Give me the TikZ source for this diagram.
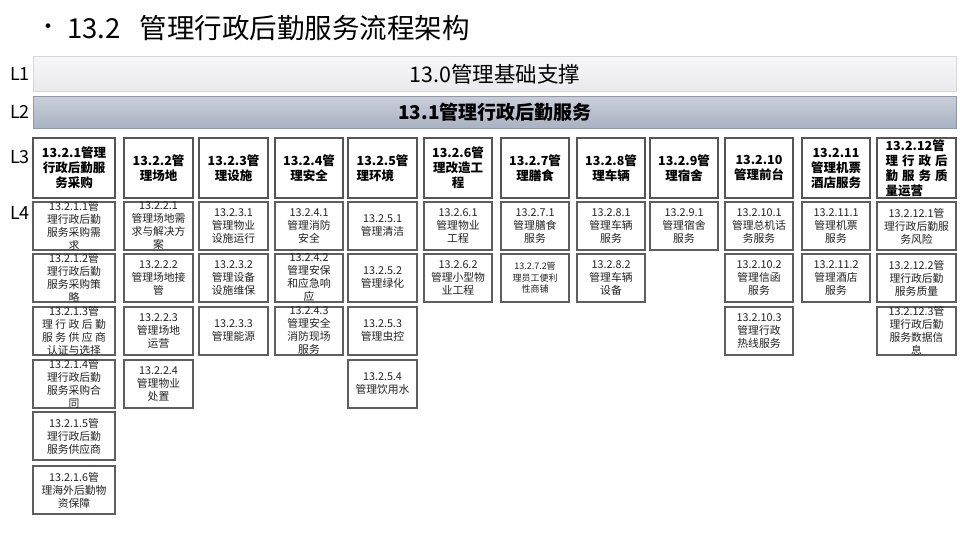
\documentclass[tikz,border=0pt]{standalone}
\usepackage{fontspec}
\newfontfamily\cjk{Noto Sans CJK SC}
\definecolor{bd3}{HTML}{555555}
\definecolor{bd4}{HTML}{5E5E5E}
\definecolor{txt4}{HTML}{222222}
\definecolor{l1bd}{HTML}{D6D6DA}
\definecolor{l1top}{HTML}{F7F7F9}
\definecolor{l1bot}{HTML}{EAEAEE}
\definecolor{l2bd}{HTML}{9098A8}
\definecolor{l2top}{HTML}{C8CEDA}
\definecolor{l2bot}{HTML}{A9B2C2}
\newcommand\mybox[8]{%
  \node[#6, minimum width=#4pt, minimum height=#5pt, anchor=north west] (#1) at (#2,#3) {};
  \node[#7] (#1t) at (#1.center) {#8};}
\newcommand\spr[2]{\makebox[#1pt][s]{#2}}
\tikzset{
 b3/.style={draw=bd3, line width=1.5pt, fill=white, inner sep=0pt, outer sep=0pt},
 b4/.style={draw=bd4, line width=1.2pt, fill=white, inner sep=0pt, outer sep=0pt},
 t3/.style={font=\cjk\bfseries\fontsize{12.5}{15}\selectfont, align=center, inner sep=0pt},
 t3l/.style={font=\cjk\bfseries\fontsize{12.5}{15}\selectfont, align=left, inner sep=0pt},
 t4/.style={font=\cjk\fontsize{10.8}{13}\selectfont, align=center, inner sep=0pt, text=txt4},
 t4s/.style={font=\cjk\fontsize{9}{11.5}\selectfont, align=center, inner sep=0pt, text=txt4},
 lbl/.style={font=\cjk\fontsize{18}{20}\selectfont, inner sep=0pt},
}
\begin{document}
\begin{tikzpicture}[x=1pt,y=-1pt]
\useasboundingbox[fill=white] (0,0) rectangle (960,540);
% title
\node[font=\cjk\fontsize{22}{24}\selectfont, inner sep=0pt] (bul) at (48,29) {•};
\node[font=\cjk\fontsize{27.5}{30}\selectfont, anchor=west, inner sep=0pt] (title) at (67,28) {13.2\hspace{0.7em}管理行政后勤服务流程架构};
% level labels
\node[lbl] (lab1) at (20,74) {L1};
\node[lbl] (lab2) at (20,112) {L2};
\node[lbl] (lab3) at (20,157) {L3};
\node[lbl] (lab4) at (20,213) {L4};
% L1 / L2 bars
\node[draw=l1bd, line width=0.8pt, top color=l1top, bottom color=l1bot, minimum width=923pt, minimum height=35pt, anchor=north west, inner sep=0pt] (l1) at (33,56) {};
\node[font=\cjk\fontsize{21.5}{23}\selectfont, inner sep=0pt] (l1t) at (l1.center) {13.0管理基础支撑};
\node[draw=l2bd, line width=0.8pt, top color=l2top, bottom color=l2bot, minimum width=923pt, minimum height=32pt, anchor=north west, inner sep=0pt] (l2) at (33,96) {};
\node[font=\cjk\bfseries\fontsize{19}{21}\selectfont, inner sep=0pt] (l2t) at (l2.center) {13.1管理行政后勤服务};
% L3
\mybox{a}{33}{138}{82}{60}{b3}{t3}{13.2.1管理\\行政后勤服\\务采购}
\mybox{b}{124}{138}{69}{60}{b3}{t3}{13.2.2管\\理场地}
\mybox{c}{199}{138}{69}{60}{b3}{t3}{13.2.3管\\理设施}
\mybox{d}{275}{138}{68}{60}{b3}{t3}{13.2.4管\\理安全}
\mybox{e}{348}{138}{69}{60}{b3}{t3l}{13.2.5管\\理环境}
\mybox{f}{424}{138}{68}{60}{b3}{t3}{13.2.6管\\理改造工\\程}
\mybox{g}{501}{138}{68}{60}{b3}{t3}{13.2.7管\\理膳食}
\mybox{h}{577}{138}{68}{60}{b3}{t3}{13.2.8管\\理车辆}
\mybox{i}{650}{138}{68}{60}{b3}{t3}{13.2.9管\\理宿舍}
\mybox{j}{725}{138}{68}{60}{b3}{t3}{13.2.10\\管理前台}
\mybox{k}{802}{138}{68}{60}{b3}{t3}{13.2.11\\管理机票\\酒店服务}
\mybox{l}{877}{138}{79}{60}{b3}{t3l}{13.2.12管\\\spr{62}{理 行 政 后}\\\spr{62}{勤 服 务 质}\\量运营}
% L4 column 1
\mybox{a1}{33}{202}{82}{48}{b4}{t4}{13.2.1.1管\\理行政后勤\\服务采购需\\求}
\mybox{a2}{33}{254}{82}{48}{b4}{t4}{13.2.1.2管\\理行政后勤\\服务采购策\\略}
\mybox{a3}{33}{307}{82}{48}{b4}{t4}{13.2.1.3管\\\spr{64}{理 行 政 后 勤}\\\spr{64}{服 务 供 应 商}\\认证与选择}
\mybox{a4}{33}{360}{82}{48}{b4}{t4}{13.2.1.4管\\理行政后勤\\服务采购合\\同}
\mybox{a5}{33}{412}{82}{48}{b4}{t4}{13.2.1.5管\\理行政后勤\\服务供应商}
\mybox{a6}{33}{466}{82}{48}{b4}{t4}{13.2.1.6管\\理海外后勤物\\资保障}
% column 2
\mybox{b1}{124}{202}{69}{48}{b4}{t4}{13.2.2.1\\管理场地需\\求与解决方\\案}
\mybox{b2}{124}{254}{69}{48}{b4}{t4}{13.2.2.2\\管理场地接\\管}
\mybox{b3}{124}{307}{69}{48}{b4}{t4}{13.2.2.3\\管理场地\\运营}
\mybox{b4}{124}{360}{69}{48}{b4}{t4}{13.2.2.4\\管理物业\\处置}
% column 3
\mybox{c1}{199}{202}{69}{48}{b4}{t4}{13.2.3.1\\管理物业\\设施运行}
\mybox{c2}{199}{254}{69}{48}{b4}{t4}{13.2.3.2\\管理设备\\设施维保}
\mybox{c3}{199}{307}{69}{48}{b4}{t4}{13.2.3.3\\管理能源}
% column 4
\mybox{d1}{275}{202}{68}{48}{b4}{t4}{13.2.4.1\\管理消防\\安全}
\mybox{d2}{275}{254}{68}{48}{b4}{t4}{13.2.4.2\\管理安保\\和应急响\\应}
\mybox{d3}{275}{307}{68}{48}{b4}{t4}{13.2.4.3\\管理安全\\消防现场\\服务}
% column 5
\mybox{e1}{348}{202}{69}{48}{b4}{t4}{13.2.5.1\\管理清洁}
\mybox{e2}{348}{254}{69}{48}{b4}{t4}{13.2.5.2\\管理绿化}
\mybox{e3}{348}{307}{69}{48}{b4}{t4}{13.2.5.3\\管理虫控}
\mybox{e4}{348}{360}{69}{48}{b4}{t4}{13.2.5.4\\管理饮用水}
% column 6
\mybox{f1}{424}{202}{68}{48}{b4}{t4}{13.2.6.1\\管理物业\\工程}
\mybox{f2}{424}{254}{68}{48}{b4}{t4}{13.2.6.2\\管理小型物\\业工程}
% column 7
\mybox{g1}{501}{202}{68}{48}{b4}{t4}{13.2.7.1\\管理膳食\\服务}
\mybox{g2}{501}{254}{68}{48}{b4}{t4s}{13.2.7.2管\\理员工便利\\性商铺}
% column 8
\mybox{h1}{577}{202}{68}{48}{b4}{t4}{13.2.8.1\\管理车辆\\服务}
\mybox{h2}{577}{254}{68}{48}{b4}{t4}{13.2.8.2\\管理车辆\\设备}
% column 9
\mybox{i1}{650}{202}{68}{48}{b4}{t4}{13.2.9.1\\管理宿舍\\服务}
% column 10
\mybox{j1}{725}{202}{68}{48}{b4}{t4}{13.2.10.1\\管理总机话\\务服务}
\mybox{j2}{725}{254}{68}{48}{b4}{t4}{13.2.10.2\\管理信函\\服务}
\mybox{j3}{725}{307}{68}{48}{b4}{t4}{13.2.10.3\\管理行政\\热线服务}
% column 11
\mybox{k1}{802}{202}{68}{48}{b4}{t4}{13.2.11.1\\管理机票\\服务}
\mybox{k2}{802}{254}{68}{48}{b4}{t4}{13.2.11.2\\管理酒店\\服务}
% column 12
\mybox{l1}{877}{202}{79}{48}{b4}{t4}{13.2.12.1管\\理行政后勤服\\务风险}
\mybox{l2}{877}{254}{79}{48}{b4}{t4}{13.2.12.2管\\理行政后勤\\服务质量}
\mybox{l3}{877}{307}{79}{48}{b4}{t4}{13.2.12.3管\\理行政后勤\\服务数据信\\息}
\end{tikzpicture}
\end{document}
